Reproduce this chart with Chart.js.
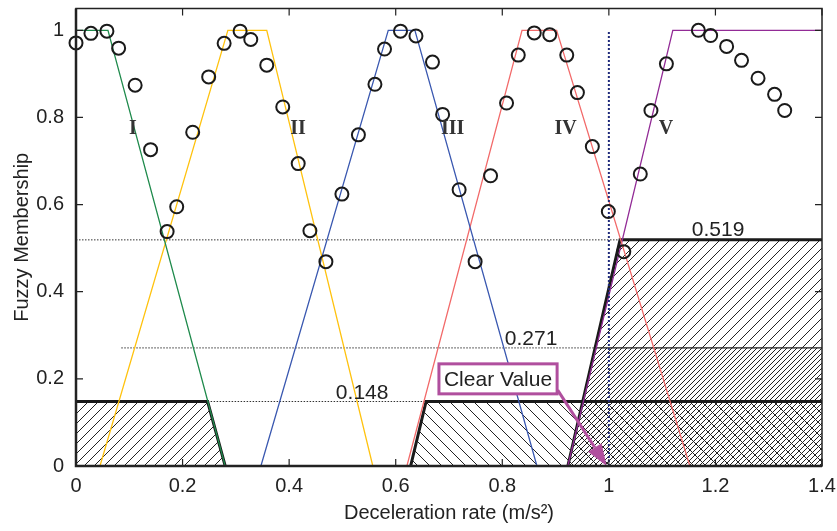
<!DOCTYPE html>
<html>
<head>
<meta charset="utf-8">
<script src="https://cdn.jsdelivr.net/npm/chart.js@4.4.0/dist/chart.umd.min.js"></script>
<style>
  body { margin: 0; background: #fff; }
  #wrap { width: 837px; height: 531px; position: relative; }
</style>
</head>
<body>
<div id="wrap"><canvas id="chartFuzzy"></canvas></div>
<script>
// Ticks
const xTicks = [0, 0.2, 0.4, 0.6, 0.8, 1, 1.2, 1.4];
const yTicks = [0, 0.2, 0.4, 0.6, 0.8, 1];

// Membership functions (corner points)
const mfNames = ['I', 'II', 'III', 'IV', 'V'];
const mfX = [
  [0, 0.06, 0.28],
  [0.045, 0.285, 0.358, 0.557],
  [0.347, 0.586, 0.636, 0.865],
  [0.621, 0.837, 0.902, 1.152],
  [0.923, 1.12, 1.4]
];
const mfY = [
  [1, 1, 0],
  [0, 1, 1, 0],
  [0, 1, 1, 0],
  [0, 1, 1, 0],
  [0, 1, 1]
];
const mfColors = ['#1f8a4c', '#ffc20e', '#3a58b0', '#f26a6a', '#922b96'];

// Measured membership (circles)
const obsX = [0, 0.028, 0.058, 0.080, 0.111, 0.140, 0.171, 0.189, 0.219, 0.249, 0.278, 0.308,
  0.328, 0.358, 0.388, 0.417, 0.439, 0.469, 0.499, 0.530, 0.561, 0.579, 0.609, 0.638,
  0.669, 0.688, 0.719, 0.749, 0.778, 0.808, 0.830, 0.860, 0.889, 0.921, 0.941, 0.969,
  0.999, 1.028, 1.059, 1.079, 1.108, 1.168, 1.191, 1.221, 1.249, 1.280, 1.311, 1.330];
const obsY = [0.971, 0.993, 0.998, 0.959, 0.874, 0.726, 0.538, 0.595, 0.766, 0.893, 0.970, 0.998,
  0.979, 0.920, 0.824, 0.694, 0.540, 0.469, 0.624, 0.760, 0.876, 0.957, 0.998, 0.987,
  0.927, 0.807, 0.634, 0.469, 0.666, 0.833, 0.943, 0.994, 0.990, 0.943, 0.857, 0.733,
  0.584, 0.492, 0.670, 0.816, 0.923, 1.0, 0.988, 0.963, 0.931, 0.890, 0.853, 0.816];

// Activation levels and clipped areas
const levels = [0.519, 0.271, 0.148];
const levelFrom = [0, 0.085, 0.247];
const levelTo = [1.021, 0.974, 0.657];
const areaX = [
  [0, 0.247, 0.28],        // I cut at 0.148
  [0.628, 0.657, 1.4],     // IV cut at 0.148
  [0.923, 1.021, 1.4],     // V cut at 0.519
  [0.923, 0.974, 1.4]      // cut at 0.271
];
const areaY = [
  [0.148, 0.148, 0],
  [0, 0.148, 0.148],
  [0, 0.519, 0.519],
  [0, 0.271, 0.271]
];
const clearValue = 1.0;

function pts(xs, ys) { return xs.map((v, i) => ({ x: v, y: ys[i] })); }

// hatch pattern: dir 1 = "/", -1 = "\"
function hatch(step, dir, offset) {
  const c = document.createElement('canvas');
  c.width = step; c.height = step;
  const g = c.getContext('2d');
  g.strokeStyle = '#222';
  g.lineWidth = 1;
  g.beginPath();
  for (let k = -1; k <= 1; k++) {
    const o = k * step + offset;
    if (dir > 0) { g.moveTo(o - 1, step + 1); g.lineTo(o + step + 1, -1); }
    else { g.moveTo(o - 1, -1); g.lineTo(o + step + 1, step + 1); }
  }
  g.stroke();
  return g.createPattern(c, 'repeat');
}
const patterns = [hatch(10, 1, 0), hatch(12, -1, 0), hatch(10, 1, 0), hatch(10, 1, 5)];
const areaBorder = [3, 3, 3, 1.2];

const datasets = [];

// circles on top
datasets.push({
  data: pts(obsX, obsY), showLine: false, order: 0, clip: false,
  pointRadius: 6.5, pointHoverRadius: 6.5, pointBorderWidth: 2,
  pointBorderColor: '#1a1a1a', pointBackgroundColor: 'rgba(0,0,0,0)'
});

// clear value vertical line
datasets.push({
  data: [{ x: clearValue, y: 0 }, { x: clearValue, y: 1 }],
  borderColor: '#1f2a7a', borderWidth: 2, borderDash: [2, 2], pointRadius: 0, order: 1
});

mfX.forEach((xs, i) => datasets.push({
  data: pts(xs, mfY[i]), borderColor: mfColors[i], borderWidth: 1.3,
  pointRadius: 0, order: 2
}));

levels.forEach((v, i) => datasets.push({
  data: [{ x: levelFrom[i], y: v }, { x: levelTo[i], y: v }],
  borderColor: '#333', borderWidth: 1, borderDash: [1.5, 1.5], pointRadius: 0, order: 3
}));

areaX.forEach((xs, i) => datasets.push({
  data: pts(xs, areaY[i]), borderColor: '#1a1a1a', borderWidth: areaBorder[i],
  backgroundColor: patterns[i], fill: 'origin', pointRadius: 0, order: 10 + i
}));

const overlay = {
  id: 'overlay',
  afterDatasetsDraw(chart) {
    const { ctx, chartArea: a, scales: { x, y } } = chart;
    ctx.save();

    // roman numerals
    const romanX = [0.107, 0.4165, 0.707, 0.919, 1.107];
    ctx.font = 'bold 20px "Liberation Serif", "Times New Roman", serif';
    ctx.fillStyle = '#333';
    ctx.textAlign = 'center';
    ctx.textBaseline = 'middle';
    mfNames.forEach((t, i) => ctx.fillText(t, x.getPixelForValue(romanX[i]), y.getPixelForValue(0.773)));

    // level labels
    const lblX = [1.205, 0.854, 0.537];
    const lblY = [0.528, 0.278, 0.153];
    ctx.font = '21px "Liberation Sans", Arial, sans-serif';
    ctx.fillStyle = '#222';
    ctx.textBaseline = 'alphabetic';
    levels.forEach((v, i) => ctx.fillText(v.toFixed(3), x.getPixelForValue(lblX[i]), y.getPixelForValue(lblY[i])));

    // Clear Value box and arrow
    const purple = '#b04f9e';
    const bx = x.getPixelForValue(0.792), by = y.getPixelForValue(0.2);
    const tw = ctx.measureText('Clear Value').width;
    const bw = tw + 10, bh = 30;
    ctx.fillStyle = '#fff';
    ctx.fillRect(bx - bw / 2, by - bh / 2, bw, bh);
    ctx.strokeStyle = purple;
    ctx.lineWidth = 3;
    ctx.strokeRect(bx - bw / 2, by - bh / 2, bw, bh);
    ctx.fillStyle = '#222';
    ctx.textBaseline = 'middle';
    ctx.fillText('Clear Value', bx, by + 1);

    const x0 = x.getPixelForValue(0.904), y0 = y.getPixelForValue(0.174);
    const x1 = x.getPixelForValue(clearValue - 0.004), y1 = y.getPixelForValue(0);
    const ang = Math.atan2(y1 - y0, x1 - x0);
    const hl = 22, hw = 8;
    ctx.strokeStyle = purple;
    ctx.fillStyle = purple;
    ctx.lineWidth = 3;
    ctx.beginPath();
    ctx.moveTo(x0, y0);
    ctx.lineTo(x1 - hl * Math.cos(ang), y1 - hl * Math.sin(ang));
    ctx.stroke();
    ctx.beginPath();
    ctx.moveTo(x1, y1);
    ctx.lineTo(x1 - hl * Math.cos(ang) + hw * Math.sin(ang), y1 - hl * Math.sin(ang) - hw * Math.cos(ang));
    ctx.lineTo(x1 - hl * Math.cos(ang) - hw * Math.sin(ang), y1 - hl * Math.sin(ang) + hw * Math.cos(ang));
    ctx.closePath();
    ctx.fill();

    // frame with inward ticks
    ctx.strokeStyle = '#222';
    ctx.lineWidth = 1.5;
    ctx.strokeRect(a.left, a.top, a.right - a.left, a.bottom - a.top);
    ctx.lineWidth = 2.5;
    ctx.beginPath();
    ctx.moveTo(a.left, a.top); ctx.lineTo(a.left, a.bottom); ctx.lineTo(a.right, a.bottom);
    ctx.stroke();
    ctx.lineWidth = 1.2;
    ctx.beginPath();
    xTicks.forEach(v => {
      const px = x.getPixelForValue(v);
      ctx.moveTo(px, a.bottom); ctx.lineTo(px, a.bottom - 7);
      ctx.moveTo(px, a.top); ctx.lineTo(px, a.top + 7);
    });
    yTicks.forEach(v => {
      const py = y.getPixelForValue(v);
      ctx.moveTo(a.left, py); ctx.lineTo(a.left + 7, py);
      ctx.moveTo(a.right, py); ctx.lineTo(a.right - 7, py);
    });
    ctx.stroke();
    ctx.restore();
  }
};

const tickFont = { family: '"Liberation Sans", Arial, sans-serif', size: 20 };
const fmt = v => String(Math.round(v * 10) / 10);

const ctx = document.getElementById('chartFuzzy').getContext('2d');
const chartFuzzy = new Chart(ctx, {
  type: 'line',
  data: { datasets: datasets },
  options: {
    responsive: true,
    maintainAspectRatio: false,
    animation: false,
    layout: { padding: { top: 8, right: 15, left: 0, bottom: 0 } },
    plugins: { legend: { display: false }, tooltip: { enabled: false } },
    elements: { line: { tension: 0 } },
    scales: {
      x: {
        type: 'linear', min: 0, max: 1.4,
        afterBuildTicks: s => { s.ticks = xTicks.map(v => ({ value: v })); },
        afterFit: s => { s.height = 65; s.paddingLeft = 0; s.paddingRight = 0; },
        grid: { display: false, drawTicks: false },
        border: { display: false },
        ticks: { color: '#222', font: tickFont, padding: 8, maxRotation: 0, callback: fmt },
        title: { display: true, text: 'Deceleration rate (m/s²)', color: '#222', font: tickFont, padding: { top: 0, bottom: 6 } }
      },
      y: {
        type: 'linear', min: 0, max: 1.05,
        afterBuildTicks: s => { s.ticks = yTicks.map(v => ({ value: v })); },
        afterFit: s => { s.width = 76; s.paddingTop = 0; s.paddingBottom = 0; },
        grid: { display: false, drawTicks: false },
        border: { display: false },
        ticks: { color: '#222', font: tickFont, padding: 12, callback: fmt },
        title: { display: true, text: 'Fuzzy Membership', color: '#222', font: tickFont, padding: { top: 10, bottom: 0 } }
      }
    }
  },
  plugins: [overlay]
});
</script>
</body>
</html>
